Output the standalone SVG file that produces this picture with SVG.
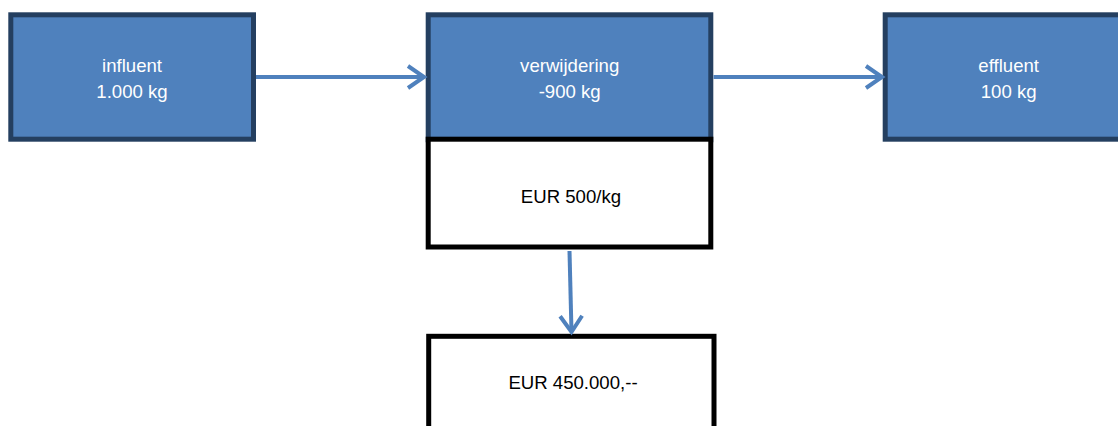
<svg xmlns="http://www.w3.org/2000/svg" width="1118" height="426" viewBox="0 0 1118 426">
  <style>
    .mass { fill: #4F81BD; stroke: #243F60; stroke-width: 5; }
    .cost { fill: #FFFFFF; stroke: #000000; stroke-width: 5; }
    .lbl { font-family: "Liberation Sans", Arial, sans-serif; font-size: 18.6px; text-anchor: middle; }
    .w { fill: #FFFFFF; }
    .k { fill: #000000; }
    .flow { fill: none; stroke: #4F81BD; stroke-width: 4; }
  </style>
  <defs>
    <marker id="open" markerUnits="userSpaceOnUse" markerWidth="30" markerHeight="30" viewBox="-20 -15 30 30" refX="0" refY="0" orient="auto">
      <path d="M-16,-11 L0,0 L-16,11" fill="none" stroke="#4F81BD" stroke-width="4" stroke-linejoin="miter"/>
    </marker>
  </defs>
  <rect width="1118" height="426" fill="#FFFFFF"/>

  <g id="influent">
    <rect class="mass" x="10.8" y="14.8" width="242.7" height="124.4"/>
    <text class="lbl w" x="132" y="71.7">influent</text>
    <text class="lbl w" x="132" y="97.7">1.000 kg</text>
  </g>

  <g id="verwijdering">
    <rect class="mass" x="428.2" y="14.8" width="282.6" height="125"/>
    <text class="lbl w" x="569.7" y="71.7">verwijdering</text>
    <text class="lbl w" x="569.7" y="97.7">-900 kg</text>
  </g>

  <g id="tarief">
    <rect class="cost" x="428.2" y="139.2" width="282.6" height="107.8"/>
    <text class="lbl k" x="571" y="203.3">EUR 500/kg</text>
  </g>

  <g id="effluent">
    <rect class="mass" x="885.2" y="14.8" width="250" height="124.4"/>
    <text class="lbl w" x="1008.7" y="71.7">effluent</text>
    <text class="lbl w" x="1008.7" y="97.7">100 kg</text>
  </g>

  <g id="kosten">
    <rect class="cost" x="428.7" y="336.3" width="285.3" height="120" stroke-width="4"/>
    <text class="lbl k" x="573" y="389">EUR 450.000,--</text>
  </g>

  <g id="connectors">
    <line class="flow" x1="256" y1="77" x2="424" y2="77" marker-end="url(#open)"/>
    <line class="flow" x1="713.5" y1="77" x2="882" y2="77" marker-end="url(#open)"/>
    <line class="flow" x1="569.5" y1="251" x2="571.5" y2="332" marker-end="url(#open)"/>
  </g>
</svg>
